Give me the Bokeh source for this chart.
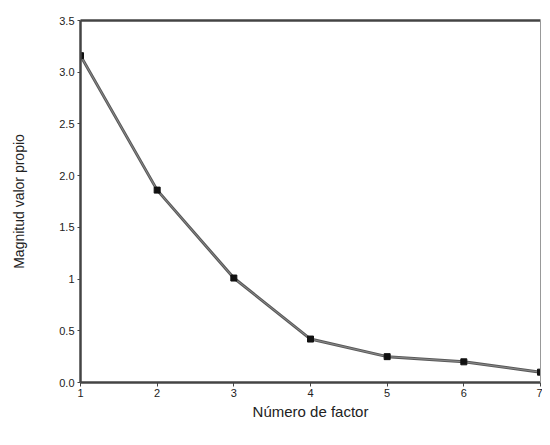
from bokeh.plotting import figure
from bokeh.models import LinearAxis, FixedTicker, Range1d
from bokeh.embed import file_html
from bokeh.resources import INLINE

factors = [1, 2, 3, 4, 5, 6, 7]
eigenvalues = [3.16, 1.86, 1.01, 0.42, 0.25, 0.20, 0.10]
y_ticks = [0.0, 0.5, 1.0, 1.5, 2.0, 2.5, 3.0, 3.5]
y_tick_labels = ["0.0", "0.5", "1", "1.5", "2.0", "2.5", "3.0", "3.5"]

p = figure(width=542, height=422, output_backend="svg", toolbar_location=None,
           x_range=Range1d(1, 7), y_range=Range1d(0, 3.5),
           min_border_left=80, min_border_right=2, min_border_top=20, min_border_bottom=10)
p.grid.visible = False
p.outline_line_color = None
p.background_fill_color = "white"
p.border_fill_color = "white"

p.line(factors, eigenvalues, line_color="#5a5a5a", line_width=3)
p.line(factors, eigenvalues, line_color="#8a8a8a", line_width=1)
p.scatter(factors, eigenvalues, marker="square", size=6, fill_color="#111111", line_color="#111111")

font = "Liberation Sans"
xa = p.xaxis[0]
xa.ticker = FixedTicker(ticks=factors)
xa.axis_line_width = 2.5
xa.axis_line_color = "#444444"
xa.major_tick_line_color = "#444444"
xa.major_tick_in = 0
xa.major_tick_out = 4
xa.minor_tick_line_color = None
xa.major_label_text_font = font
xa.major_label_text_font_size = "11px"
xa.major_label_text_color = "#222222"
xa.major_label_standoff = 2
xa.axis_label = "Número de factor"
xa.axis_label_text_font = font
xa.axis_label_text_font_size = "15px"
xa.axis_label_text_font_style = "normal"
xa.axis_label_text_color = "#222222"
xa.axis_label_standoff = 3

ya = p.yaxis[0]
ya.ticker = FixedTicker(ticks=y_ticks)
ya.major_label_overrides = {t: l for t, l in zip(y_ticks, y_tick_labels)}
ya.axis_line_width = 2.5
ya.axis_line_color = "#444444"
ya.major_tick_line_color = "#444444"
ya.major_tick_in = 0
ya.major_tick_out = 3
ya.minor_tick_line_color = None
ya.major_label_text_font = font
ya.major_label_text_font_size = "11px"
ya.major_label_text_color = "#222222"
ya.major_label_standoff = 3
ya.axis_label = "Magnitud valor propio"
ya.axis_label_text_font = font
ya.axis_label_text_font_size = "14px"
ya.axis_label_text_font_style = "normal"
ya.axis_label_text_color = "#222222"
ya.axis_label_standoff = 29

top = LinearAxis(ticker=FixedTicker(ticks=[]), axis_line_width=2.5, axis_line_color="#444444",
                 major_tick_line_color=None, minor_tick_line_color=None,
                 major_label_text_font_size="0px")
right = LinearAxis(ticker=FixedTicker(ticks=[]), axis_line_width=1, axis_line_color="#999999",
                   major_tick_line_color=None, minor_tick_line_color=None,
                   major_label_text_font_size="0px")
p.add_layout(top, "above")
p.add_layout(right, "right")

open("out.html", "w").write(file_html(p, INLINE))
